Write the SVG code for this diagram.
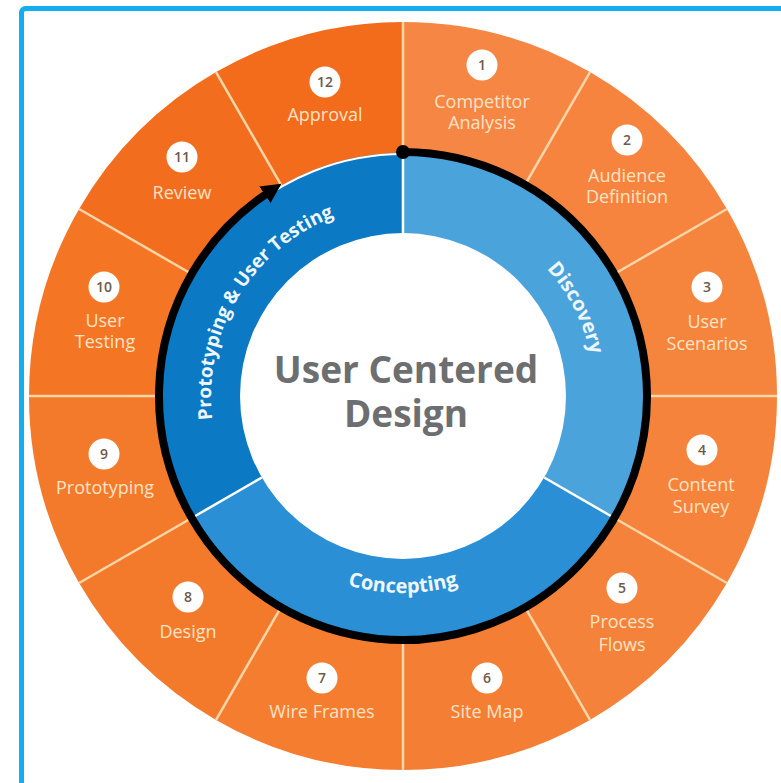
<svg xmlns="http://www.w3.org/2000/svg" width="781" height="783" viewBox="0 0 781 783">
<style>
.lbl{font-family:"Open Sans","Liberation Sans",sans-serif;font-size:18px;fill:#FDE3C6;text-anchor:middle}
.num{font-family:"Open Sans","Liberation Sans",sans-serif;font-size:14px;font-weight:600;fill:#6e5a48;text-anchor:middle}
.nc{fill:#ffffff}
.odiv{stroke:#FBD6A8;stroke-width:2.5}
.bdiv{stroke:#ffffff;stroke-width:2.5}
.phase{font-family:"Open Sans","Liberation Sans",sans-serif;font-size:20px;font-weight:700;fill:#EEF7FD}
.center{font-family:"Open Sans","Liberation Sans",sans-serif;font-size:37px;font-weight:700;fill:#6D6E70;text-anchor:middle}
</style>
<defs>
<marker id="ah" markerUnits="userSpaceOnUse" markerWidth="24" markerHeight="24" refX="2" refY="10" orient="auto">
<path d="M0,0 L20,10 L0,20 Z" fill="#000"/>
</marker>
<path id="pDisc" d="M413.05,204.26 A192 192 0 0 1 564.02,500.57"/>
<path id="pConc" d="M232.39,494.5 A197 197 0 0 0 573.61,494.5"/>
<path id="pProt" d="M235.07,489.08 A192 192 0 0 1 406.35,204.03"/>
</defs>
<rect x="21.5" y="8.5" width="800" height="800" rx="4" fill="#ffffff" stroke="#12AEEF" stroke-width="5"/>

<g id="seg1"><path d="M403,396 L403,22 A374 374 0 0 1 590,72.1 Z" fill="#F68643"/><circle class="nc" cx="482" cy="65" r="15.5"/><text class="num" x="482" y="70">1</text><text class="lbl" x="482" y="108">Competitor</text><text class="lbl" x="482" y="129">Analysis</text></g>
<g id="seg2"><path d="M403,396 L590,72.1 A374 374 0 0 1 726.9,209 Z" fill="#F6843F"/><circle class="nc" cx="627" cy="140" r="15.5"/><text class="num" x="627" y="145">2</text><text class="lbl" x="627" y="182">Audience</text><text class="lbl" x="627" y="203">Definition</text></g>
<g id="seg3"><path d="M403,396 L726.9,209 A374 374 0 0 1 777,396 Z" fill="#F5843D"/><circle class="nc" cx="707" cy="287" r="15.5"/><text class="num" x="707" y="292">3</text><text class="lbl" x="707" y="328">User</text><text class="lbl" x="707" y="350">Scenarios</text></g>
<g id="seg4"><path d="M403,396 L777,396 A374 374 0 0 1 726.9,583 Z" fill="#F5833B"/><circle class="nc" cx="702" cy="450" r="15.5"/><text class="num" x="702" y="455">4</text><text class="lbl" x="701" y="491">Content</text><text class="lbl" x="701" y="513">Survey</text></g>
<g id="seg5"><path d="M403,396 L726.9,583 A374 374 0 0 1 590,719.9 Z" fill="#F5823A"/><circle class="nc" cx="622" cy="588" r="15.5"/><text class="num" x="622" y="593">5</text><text class="lbl" x="622" y="628">Process</text><text class="lbl" x="622" y="651">Flows</text></g>
<g id="seg6"><path d="M403,396 L590,719.9 A374 374 0 0 1 403,770 Z" fill="#F47E33"/><circle class="nc" cx="487" cy="678" r="15.5"/><text class="num" x="487" y="683">6</text><text class="lbl" x="487" y="718">Site Map</text></g>
<g id="seg7"><path d="M403,396 L403,770 A374 374 0 0 1 216,719.9 Z" fill="#F57D30"/><circle class="nc" cx="322" cy="678" r="15.5"/><text class="num" x="322" y="683">7</text><text class="lbl" x="322" y="718">Wire Frames</text></g>
<g id="seg8"><path d="M403,396 L216,719.9 A374 374 0 0 1 79.1,583 Z" fill="#F47A2B"/><circle class="nc" cx="188" cy="597" r="15.5"/><text class="num" x="188" y="602">8</text><text class="lbl" x="188" y="638">Design</text></g>
<g id="seg9"><path d="M403,396 L79.1,583 A374 374 0 0 1 29,396 Z" fill="#F47A2B"/><circle class="nc" cx="104" cy="454" r="15.5"/><text class="num" x="104" y="459">9</text><text class="lbl" x="105" y="494">Prototyping</text></g>
<g id="seg10"><path d="M403,396 L29,396 A374 374 0 0 1 79.1,209 Z" fill="#F47524"/><circle class="nc" cx="104" cy="287" r="15.5"/><text class="num" x="104" y="292">10</text><text class="lbl" x="105" y="327">User</text><text class="lbl" x="105" y="348">Testing</text></g>
<g id="seg11"><path d="M403,396 L79.1,209 A374 374 0 0 1 216,72.1 Z" fill="#F26D1E"/><circle class="nc" cx="182" cy="157" r="15.5"/><text class="num" x="182" y="162">11</text><text class="lbl" x="182" y="199">Review</text></g>
<g id="seg12"><path d="M403,396 L216,72.1 A374 374 0 0 1 403,22 Z" fill="#F26C1C"/><circle class="nc" cx="325" cy="82" r="15.5"/><text class="num" x="325" y="87">12</text><text class="lbl" x="325" y="121">Approval</text></g>

<g id="orange-dividers">
<line class="odiv" x1="403" y1="153" x2="403" y2="22"/>
<line class="odiv" x1="524.5" y1="185.56" x2="590" y2="72.1"/>
<line class="odiv" x1="613.44" y1="274.5" x2="726.9" y2="209"/>
<line class="odiv" x1="646" y1="396" x2="777" y2="396"/>
<line class="odiv" x1="613.44" y1="517.5" x2="726.9" y2="583"/>
<line class="odiv" x1="524.5" y1="606.44" x2="590" y2="719.9"/>
<line class="odiv" x1="403" y1="639" x2="403" y2="770"/>
<line class="odiv" x1="281.5" y1="606.44" x2="216" y2="719.9"/>
<line class="odiv" x1="192.56" y1="517.5" x2="79.1" y2="583"/>
<line class="odiv" x1="160" y1="396" x2="29" y2="396"/>
<line class="odiv" x1="192.56" y1="274.5" x2="79.1" y2="209"/>
<line class="odiv" x1="281.5" y1="185.56" x2="216" y2="72.1"/>
</g>

<g id="discovery"><path d="M403,396 L403,153 A243 243 0 0 1 613.44,517.5 Z" fill="#4BA3DC"/></g>
<g id="concepting"><path d="M403,396 L613.44,517.5 A243 243 0 0 1 192.56,517.5 Z" fill="#2B8FD5"/></g>
<g id="prototyping-testing"><path d="M403,396 L192.56,517.5 A243 243 0 0 1 403,153 Z" fill="#0B79C3"/></g>
<circle cx="403" cy="396" r="242" fill="none" stroke="#ffffff" stroke-width="2"/>

<g id="center"><circle cx="403" cy="396" r="163" fill="#ffffff"/>
<text class="center" x="406" y="383">User Centered</text>
<text class="center" x="406" y="427">Design</text></g>

<g id="blue-dividers">
<line class="bdiv" x1="403" y1="233" x2="403" y2="153"/>
<line class="bdiv" x1="544.16" y1="477.5" x2="613.44" y2="517.5"/>
<line class="bdiv" x1="261.84" y1="477.5" x2="192.56" y2="517.5"/>
</g>

<g id="phase-labels">
<text class="phase"><textPath href="#pDisc" startOffset="50%" text-anchor="middle">Discovery</textPath></text>
<text class="phase"><textPath href="#pConc" startOffset="50%" text-anchor="middle">Concepting</textPath></text>
<text class="phase" style="font-size:19px"><textPath href="#pProt" startOffset="50%" text-anchor="middle">Prototyping &amp; User Testing</textPath></text>
</g>

<g id="connectors">
<path d="M403,152 A244 244 0 1 1 266.56,193.71" fill="none" stroke="#000" stroke-width="8" marker-end="url(#ah)"/>
<circle cx="403" cy="152" r="7" fill="#000"/>
</g>
</svg>
